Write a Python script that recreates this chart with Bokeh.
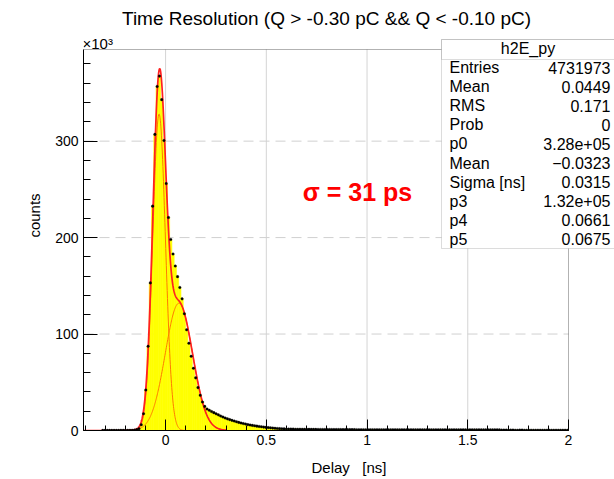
import numpy as np
from bokeh.plotting import figure
from bokeh.models import Range1d, FixedTicker, Label, BoxAnnotation, NumeralTickFormatter
from bokeh.embed import file_html
from bokeh.resources import INLINE

# ---------------- data (counts in units of 10^3) ----------------
x_low = -0.4075          # first bin edge shown
x_high = 2.0
bin_width = 0.01125
y_top = 395.0

counts_left = [0, 0, 0, 0, 0, 0, 0, 0,
               0.08, 0.08, 0.08, 0.08, 0.08, 0.08, 0.08, 0.08,
               0.15, 0.15, 0.15, 0.15, 0.15, 0.25, 0.5, 0.9, 1.8]
counts_peak = [6.0, 17.3, 42.0, 87.3, 153.0, 232.6, 307.0, 356.7, 367.4, 343.0,
               300.7, 256.0, 220.8, 198.0, 183.0, 170.5, 159.5, 148.3, 136.5, 121.0,
               104.4, 90.5, 77.0, 64.6, 54.6, 44.5, 36.5, 29.5, 25.0, 22.3,
               21.0, 19.7, 18.5, 17.3, 16.2]
counts_tail = [15.0, 14.0, 13.0, 12.1, 11.3, 10.5, 9.8, 9.1, 8.4, 7.8,
               7.2, 6.7, 6.1, 5.7, 5.3, 4.9, 4.5, 4.2, 3.9, 3.5,
               3.2, 3.0, 2.75, 2.5, 2.3, 2.1, 1.9, 1.75, 1.65, 1.55,
               1.5, 1.45, 1.4, 1.35, 1.32, 1.3, 1.27, 1.25, 1.22, 1.2,
               1.18, 1.15, 1.13, 1.1, 1.08, 1.06, 1.05, 1.03, 1.02, 1.0,
               0.99, 0.98, 0.96, 0.95, 0.93, 0.92, 0.9, 0.89, 0.88, 0.87,
               0.86, 0.85, 0.84, 0.84, 0.83, 0.82, 0.82, 0.81, 0.8, 0.8,
               0.79, 0.79, 0.78, 0.78, 0.77, 0.77, 0.76, 0.76, 0.75, 0.75,
               0.75, 0.74, 0.74, 0.73, 0.73, 0.73, 0.72, 0.72, 0.72, 0.71,
               0.71, 0.71, 0.7, 0.7, 0.7, 0.69, 0.69, 0.69, 0.68, 0.68,
               0.68, 0.68, 0.67, 0.67, 0.67, 0.66, 0.66, 0.66, 0.66, 0.65,
               0.65, 0.65, 0.65, 0.64, 0.64, 0.64, 0.64, 0.63, 0.63, 0.63,
               0.62, 0.62, 0.62, 0.62,
               0.36, 0.36, 0.35, 0.35, 0.35, 0.35, 0.34, 0.34, 0.34, 0.34,
               0.34, 0.33, 0.33, 0.33, 0.33, 0.33, 0.32, 0.32, 0.32, 0.32,
               0.32, 0.31, 0.31, 0.31, 0.31, 0.31, 0.3, 0.3, 0.3, 0.3]

# fit parameters (from the stats box), amplitude in 10^3
fit_p0, fit_mean1, fit_sigma1 = 328.0, -0.0323, 0.0315
fit_p3, fit_mean2, fit_sigma2 = 132.0, 0.0661, 0.0675
fit_lo, fit_hi = -0.4075, 0.30

stats_names = ["Entries", "Mean", "RMS", "Prob", "p0", "Mean", "Sigma [ns]", "p3", "p4", "p5"]
stats_values = ["4731973", "0.0449", "0.171", "0", "3.28e+05", "\u22120.0323",
                "0.0315", "1.32e+05", "0.0661", "0.0675"]

x_major = [0, 0.5, 1, 1.5, 2]
x_grid = [0, 0.5, 1, 1.5]
y_major = [0, 100, 200, 300]
y_grid = [100, 200, 300]

# ---------------- figure ----------------
FONT = "Liberation Sans"
W, H = 614, 479
FL, FB = 83, 49                 # frame left / bottom border
plot_w = 568 - FL               # width of the drawn data box (px)
plot_h = (H - FB) - 49          # height of the drawn data box (px)
frame_w = W - FL
frame_h = H - FB
px_per_x = plot_w / (x_high - x_low)
px_per_y = plot_h / y_top

p = figure(width=W, height=H,
           x_range=Range1d(x_low, x_low + frame_w / px_per_x),
           y_range=Range1d(0, frame_h / px_per_y),
           output_backend="svg", toolbar_location=None,
           min_border_left=FL, min_border_right=0, min_border_top=0, min_border_bottom=FB)
p.title.text = ""
p.outline_line_color = None
p.background_fill_color = "white"
p.border_fill_color = "white"
p.grid.visible = False

counts = np.array(counts_left + counts_peak + counts_tail, dtype=float)
n = len(counts)
left_edges = x_low + bin_width * np.arange(n)
right_edges = left_edges + bin_width
centers = left_edges + bin_width / 2

# grid lines (limited to the data box)
p.segment(x0=x_grid, x1=x_grid, y0=0, y1=y_top, line_color="#d4d4d4", line_width=1)
p.segment(x0=x_low, x1=x_high, y0=y_grid, y1=y_grid, line_color="#d0d0d0",
          line_width=1, line_dash="10 6")

# histogram fill
p.quad(left=left_edges, right=right_edges, bottom=0, top=counts,
       fill_color="#ffff00", line_color="#ffff00", line_width=0.6)

# fit functions
xf = np.linspace(fit_lo, fit_hi, 500)
g1 = fit_p0 * np.exp(-0.5 * ((xf - fit_mean1) / fit_sigma1) ** 2)
g2 = fit_p3 * np.exp(-0.5 * ((xf - fit_mean2) / fit_sigma2) ** 2)
p.line(xf, g1, line_color="#ff7a00", line_width=1)
p.line(xf, g2, line_color="#ff7a00", line_width=1)
p.line(xf, g1 + g2, line_color="#ff2020", line_width=1.7)

# data markers
mask = counts > 0
p.scatter(centers[mask], counts[mask], size=2.6, marker="circle",
          fill_color="black", line_color="black", line_width=0.3)

# axes
for ax in (p.xaxis[0], p.yaxis[0]):
    ax.axis_line_color = "black"
    ax.major_tick_line_color = "black"
    ax.minor_tick_line_color = "black"
    ax.major_tick_out = 0
    ax.minor_tick_out = 0
    ax.major_label_text_font = FONT
    ax.major_label_text_font_size = "14px"
    ax.major_label_text_color = "black"
    ax.axis_label_text_font = FONT
    ax.axis_label_text_font_size = "15px"
    ax.axis_label_text_font_style = "normal"
    ax.axis_label_text_color = "black"

p.xaxis.bounds = (x_low, x_high)
p.xaxis.ticker = FixedTicker(ticks=x_major, minor_ticks=[round(-0.4 + 0.1 * k, 2) for k in range(25)])
p.xaxis.formatter = NumeralTickFormatter(format="0.[0]")
p.xaxis.major_tick_in = 11
p.xaxis.minor_tick_in = 5
p.xaxis.major_label_standoff = 4
p.xaxis.axis_label = "Delay\u00a0\u00a0\u00a0[ns]"
p.xaxis.axis_label_standoff = 11

p.yaxis.bounds = (0, y_top)
p.yaxis.ticker = FixedTicker(ticks=y_major, minor_ticks=list(range(0, 395, 20)))
p.yaxis.major_tick_in = 14
p.yaxis.minor_tick_in = 7
p.yaxis.major_label_standoff = 5
p.yaxis.axis_label = "counts"
p.yaxis.axis_label_standoff = 9

# frame outline (drawn before stats box so the box covers it)
p.add_layout(BoxAnnotation(left=x_low, right=x_high, bottom=0, top=y_top,
                           fill_alpha=0, line_color="black", line_width=1))

def lab(x, y, text, size="16px", align="left", baseline="middle", color="black",
        style="normal"):
    p.add_layout(Label(x=x, y=y, x_units="screen", y_units="screen", text=text,
                       text_font=FONT, text_font_size=size, text_align=align,
                       text_baseline=baseline, text_color=color, text_font_style=style))

# title and multiplier (screen units relative to frame bottom-left, y up)
lab(243, frame_h - 18, "Time Resolution (Q > -0.30 pC && Q < -0.10 pC)", size="19px", align="center")
lab(-1, frame_h - 43, "\u00d710\u00b3", size="15px", align="left")

# sigma annotation
lab(274, frame_h - 191, "\u03c3 = 31 ps", size="25px", align="center", color="#ff0000", style="bold")

# stats box
box_l, box_r = 441 - FL, 640 - FL
box_t, box_b = frame_h - 39, frame_h - 248
hdr_b = frame_h - 59
p.add_layout(BoxAnnotation(left=box_l, right=box_r, top=box_t, bottom=box_b,
                           left_units="screen", right_units="screen",
                           top_units="screen", bottom_units="screen",
                           fill_color="white", fill_alpha=1, line_color="#8c8c8c", line_width=1))
p.add_layout(BoxAnnotation(left=box_l, right=box_r, top=box_t, bottom=hdr_b,
                           left_units="screen", right_units="screen",
                           top_units="screen", bottom_units="screen",
                           fill_alpha=0, line_color="#8c8c8c", line_width=1))
lab(527.5 - FL, frame_h - 48, "h2E_py", size="16px", align="center")
for k, (nm, vv) in enumerate(zip(stats_names, stats_values)):
    yy = frame_h - (67 + 19.11 * k)
    lab(449 - FL, yy, nm, size="16px", align="left")
    lab(610 - FL, yy, vv, size="16px", align="right")

open("out.html", "w").write(file_html(p, INLINE))
